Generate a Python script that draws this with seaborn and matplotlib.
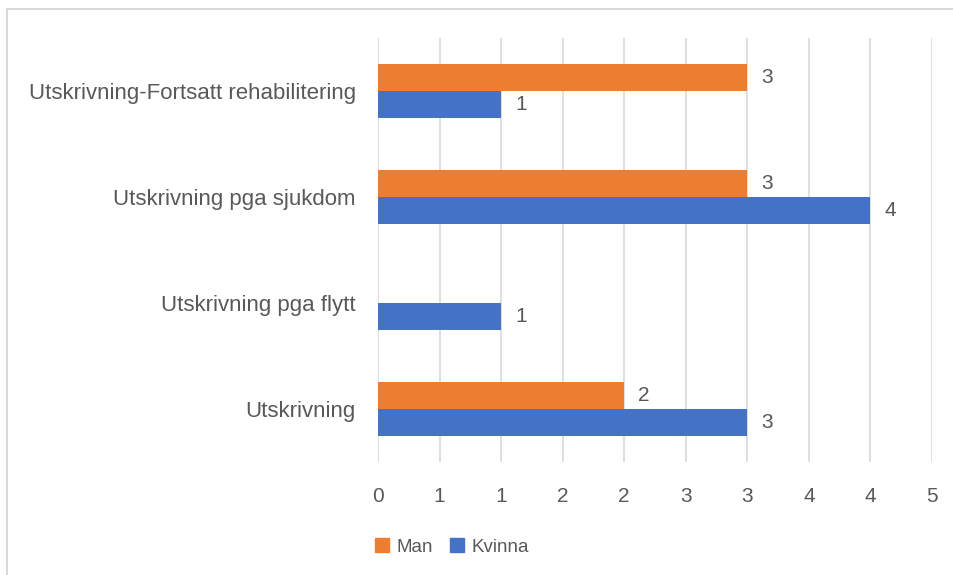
import numpy as np
import pandas as pd
import seaborn as sns
from matplotlib import pyplot as plt
from matplotlib.ticker import FuncFormatter
from matplotlib.lines import Line2D

categories = [
    "Utskrivning-Fortsatt rehabilitering",
    "Utskrivning pga sjukdom",
    "Utskrivning pga flytt",
    "Utskrivning",
]
man = [3, 3, np.nan, 2]
kvinna = [1, 4, 1, 3]
series = ["Man", "Kvinna"]
colors = {"Man": "#ED7D31", "Kvinna": "#4472C4"}
xticks = np.arange(0, 5, 0.5)

sns.set_style("white")
plt.rcParams["font.family"] = ["Liberation Sans", "DejaVu Sans"]
text_color = "#595959"

df = pd.DataFrame({
    "kategori": categories * 2,
    "antal": man + kvinna,
    "kon": ["Man"] * len(categories) + ["Kvinna"] * len(categories),
}).dropna()

fig = plt.figure(figsize=(9.54, 5.75), dpi=100)
ax = fig.add_axes([378 / 954, 1 - 462 / 575, 554 / 954, 424 / 575])

sns.barplot(
    data=df, x="antal", y="kategori", hue="kon", order=categories,
    hue_order=series, palette=colors, orient="h", width=0.51,
    saturation=1, ax=ax, legend=False, linewidth=0,
)

for cont in ax.containers:
    ax.bar_label(cont, fmt="%g", padding=10, fontsize=15, color=text_color)

ax.set_xlim(0, 4.5)
ax.set_ylim(3.5, -0.5)
ax.set_xticks(xticks)
ax.xaxis.set_major_formatter(FuncFormatter(lambda v, p: f"{int(np.floor(v + 0.5))}"))
ax.grid(axis="x", color="#D9D9D9", linewidth=1.2)
ax.grid(axis="y", visible=False)
ax.set_axisbelow(True)
for s in ax.spines.values():
    s.set_visible(False)
ax.tick_params(axis="x", length=0, pad=18, labelsize=15, labelcolor=text_color)
ax.tick_params(axis="y", length=0, pad=16, labelsize=16, labelcolor=text_color)
ax.set_xlabel("")
ax.set_ylabel("")

handles = [plt.Rectangle((0, 0), 1, 1, color=colors[s]) for s in series]
fig.legend(handles, series, loc="center", bbox_to_anchor=(452 / 954, 1 - 547 / 575),
           ncol=2, frameon=False, fontsize=13.5, labelcolor=text_color,
           handlelength=0.75, handleheight=0.75, handletextpad=0.4, columnspacing=0.9)

# outer chart frame
fig.add_artist(Line2D([7 / 954, 7 / 954], [0, 1 - 9 / 575], color="#D9D9D9", lw=1.5))
fig.add_artist(Line2D([7 / 954, 1], [1 - 9 / 575, 1 - 9 / 575], color="#D9D9D9", lw=1.5))

fig.savefig("out.png", dpi=100)
